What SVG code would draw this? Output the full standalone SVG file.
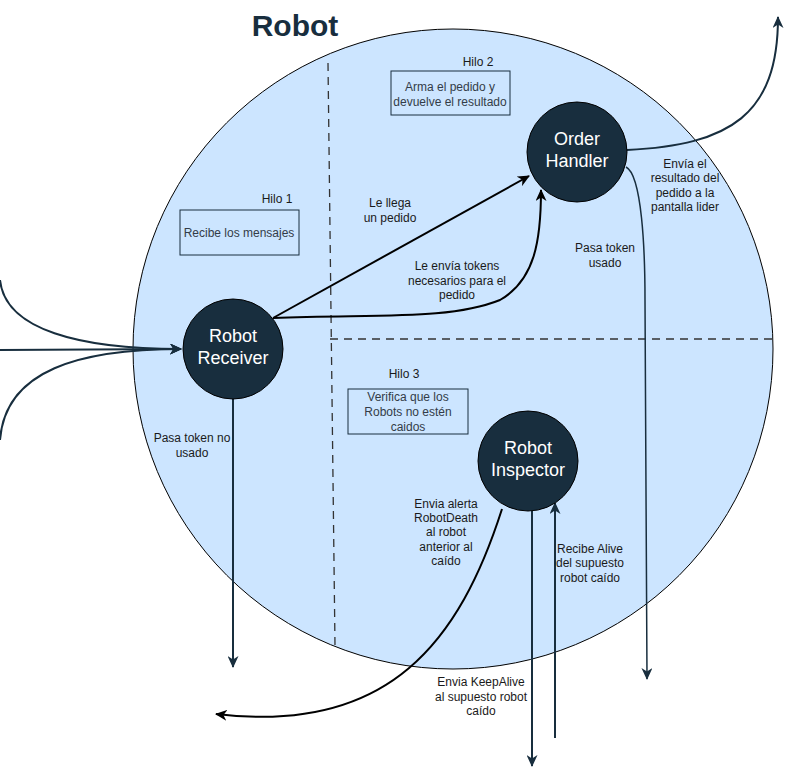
<svg xmlns="http://www.w3.org/2000/svg" width="785" height="777" viewBox="0 0 785 777">
<style>
text{font-family:"Liberation Sans",Arial,sans-serif}
.lbl{font-size:12px;fill:#1a1a1a;text-anchor:middle}
.box{fill:none;stroke:#182E3E;stroke-width:1}
.boxt{font-size:12px;fill:#333c48;text-anchor:middle}
.node{fill:#182E3E;stroke:#000;stroke-width:1}
.nt{font-size:18px;fill:#fff;text-anchor:middle}
.dash{stroke:#333;stroke-width:1.3;stroke-dasharray:8 6;fill:none}
.cn{fill:none;stroke:#182E3E;stroke-width:2}
.ck{fill:none;stroke:#000;stroke-width:2}
</style>
<defs>
<marker id="an" markerWidth="13" markerHeight="11" refX="11" refY="5.5" orient="auto" markerUnits="userSpaceOnUse">
<path d="M0,0 L12,5.5 L0,11 L3.5,5.5 Z" fill="#182E3E"/>
</marker>
<marker id="ak" markerWidth="13" markerHeight="11" refX="11" refY="5.5" orient="auto" markerUnits="userSpaceOnUse">
<path d="M0,0 L12,5.5 L0,11 L3.5,5.5 Z" fill="#000"/>
</marker>
</defs>
<rect width="785" height="777" fill="#fff"/>
<g id="robot">
<circle cx="453" cy="349" r="320" fill="#cce5ff" stroke="#000" stroke-width="1"/>
<text x="295" y="36" font-size="30" font-weight="bold" fill="#182E3E" text-anchor="middle">Robot</text>
</g>
<g id="separators">
<line class="dash" x1="328" y1="63" x2="335" y2="646"/>
<line class="dash" x1="330" y1="339" x2="773" y2="339"/>
</g>
<g id="hilo1">
<text class="lbl" x="277" y="203">Hilo 1</text>
<rect class="box" x="180" y="210" width="119" height="45"/>
<text class="boxt" x="239" y="237">Recibe los mensajes</text>
</g>
<g id="hilo2">
<text class="lbl" x="478" y="66">Hilo 2</text>
<rect class="box" x="391" y="71" width="119" height="44"/>
<text class="boxt" x="450" y="91">Arma el pedido y</text>
<text class="boxt" x="450" y="106">devuelve el resultado</text>
</g>
<g id="hilo3">
<text class="lbl" x="404" y="378">Hilo 3</text>
<rect class="box" x="348" y="389" width="120" height="45"/>
<text class="boxt" x="408" y="401">Verifica que los</text>
<text class="boxt" x="408" y="416">Robots no estén</text>
<text class="boxt" x="408" y="431">caidos</text>
</g>
<g id="connectors">
<path class="cn" d="M0,280 C5,330 80,349 181,349" marker-end="url(#an)"/>
<path class="cn" d="M0,350 L181,349" marker-end="url(#an)"/>
<path class="cn" d="M0,440 C5,370 80,349 181,349" marker-end="url(#an)"/>
<path class="ck" d="M273,318 L529,176" marker-end="url(#ak)"/>
<path class="ck" d="M273,318 C380,314 450,320 500,300 C535,280 541,240 541,190" marker-end="url(#ak)"/>
<path class="cn" d="M627,150 C730,145 778,115 778,17" marker-end="url(#an)"/>
<path fill="none" stroke="#182E3E" stroke-width="1.5" d="M626,167 C642,175 645,250 645,300 L647,679" marker-end="url(#an)"/>
<path class="cn" d="M233,399 L233,667" marker-end="url(#an)"/>
<path class="ck" d="M502,509 C460,640 390,735 216,714" marker-end="url(#ak)"/>
<path class="cn" d="M532,511 L532,766" marker-end="url(#an)"/>
<path class="cn" d="M555,738 L555,503" marker-end="url(#an)"/>
</g>
<g id="receiver">
<circle class="node" cx="233" cy="349" r="50"/>
<text class="nt" x="233" y="342">Robot</text>
<text class="nt" x="233" y="364">Receiver</text>
</g>
<g id="handler">
<circle class="node" cx="577" cy="152" r="50"/>
<text class="nt" x="577" y="145">Order</text>
<text class="nt" x="577" y="167">Handler</text>
</g>
<g id="inspector">
<circle class="node" cx="528" cy="461" r="50"/>
<text class="nt" x="528" y="454">Robot</text>
<text class="nt" x="528" y="476">Inspector</text>
</g>
<g id="labels">
<text class="lbl" x="390" y="207">Le llega</text>
<text class="lbl" x="390" y="222">un pedido</text>
<text class="lbl" x="457" y="270">Le envía tokens</text>
<text class="lbl" x="457" y="285">necesarios para el</text>
<text class="lbl" x="457" y="299">pedido</text>
<text class="lbl" x="685" y="168">Envía el</text>
<text class="lbl" x="685" y="182">resultado del</text>
<text class="lbl" x="685" y="197">pedido a la</text>
<text class="lbl" x="685" y="211">pantalla lider</text>
<text class="lbl" x="605" y="252">Pasa token</text>
<text class="lbl" x="605" y="267">usado</text>
<text class="lbl" x="192" y="442">Pasa token no</text>
<text class="lbl" x="192" y="457">usado</text>
<text class="lbl" x="446" y="508">Envia alerta</text>
<text class="lbl" x="446" y="522">RobotDeath</text>
<text class="lbl" x="446" y="536">al robot</text>
<text class="lbl" x="446" y="551">anterior al</text>
<text class="lbl" x="446" y="565">caído</text>
<text class="lbl" x="590" y="553">Recibe Alive</text>
<text class="lbl" x="590" y="567">del supuesto</text>
<text class="lbl" x="590" y="582">robot caído</text>
<text class="lbl" x="481" y="686">Envia KeepAlive</text>
<text class="lbl" x="481" y="701">al supuesto robot</text>
<text class="lbl" x="481" y="715">caído</text>
</g>
</svg>
